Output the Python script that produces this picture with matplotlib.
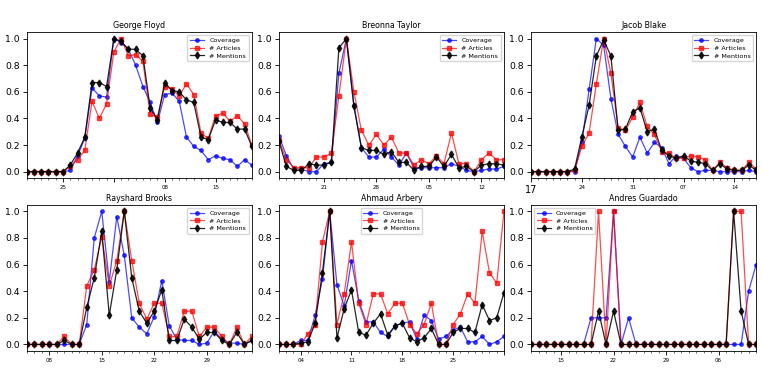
import numpy as np
import matplotlib
matplotlib.use("Agg")
import matplotlib.pyplot as plt
from matplotlib.ticker import MultipleLocator

titles = ["George Floyd", "Breonna Taylor", "Jacob Blake",
          "Rayshard Brooks", "Ahmaud Arbery", "Andres Guardado"]

floyd_cov = [0, 0, 0, 0, 0, 0, 0.01, 0.12, 0.25, 0.63, 0.57, 0.56, 1.0, 0.97, 0.92, 0.80,
             0.64, 0.52, 0.37, 0.58, 0.59, 0.53, 0.26, 0.19, 0.16, 0.09, 0.12, 0.10, 0.09, 0.04, 0.09, 0.05]
floyd_art = [0, 0, 0, 0, 0, 0, 0.04, 0.09, 0.16, 0.53, 0.40, 0.51, 0.90, 1.0, 0.87, 0.88,
             0.83, 0.43, 0.41, 0.64, 0.62, 0.57, 0.66, 0.58, 0.29, 0.25, 0.42, 0.44, 0.38, 0.42, 0.36, 0.20]
floyd_men = [0, 0, 0, 0, 0, 0, 0.05, 0.14, 0.26, 0.67, 0.67, 0.64, 1.0, 0.98, 0.92, 0.92,
             0.87, 0.48, 0.39, 0.67, 0.61, 0.60, 0.54, 0.52, 0.26, 0.24, 0.39, 0.37, 0.37, 0.32, 0.32, 0.19]

taylor_cov = [0.27, 0.12, 0.02, 0.02, 0.00, 0.00, 0.06, 0.07, 0.74, 1.0, 0.50, 0.18, 0.11, 0.11, 0.17, 0.11,
              0.05, 0.14, 0.03, 0.03, 0.03, 0.03, 0.03, 0.06, 0.04, 0.01, 0.00, 0.01, 0.02, 0.02, 0.04]
taylor_art = [0.24, 0.09, 0.03, 0.03, 0.03, 0.11, 0.11, 0.14, 0.57, 1.0, 0.60, 0.31, 0.20, 0.28, 0.20, 0.26,
              0.14, 0.14, 0.05, 0.09, 0.06, 0.12, 0.06, 0.29, 0.06, 0.06, 0.00, 0.09, 0.14, 0.09, 0.09]
taylor_men = [0.23, 0.04, 0.01, 0.01, 0.06, 0.05, 0.05, 0.07, 0.93, 1.0, 0.49, 0.18, 0.16, 0.16, 0.13, 0.15,
              0.07, 0.07, 0.01, 0.04, 0.04, 0.11, 0.04, 0.13, 0.03, 0.04, 0.00, 0.05, 0.06, 0.06, 0.05]

blake_cov = [0, 0, 0, 0, 0, 0, 0.0, 0.22, 0.62, 1.0, 0.95, 0.55, 0.28, 0.19, 0.11, 0.26,
             0.14, 0.22, 0.18, 0.06, 0.12, 0.10, 0.03, 0.00, 0.01, 0.01, 0.00, 0.00, 0.00, 0.00, 0.01, 0.00]
blake_art = [0, 0, 0, 0, 0, 0, 0.01, 0.19, 0.29, 0.66, 1.0, 0.74, 0.33, 0.31, 0.41, 0.52,
             0.34, 0.28, 0.15, 0.14, 0.10, 0.10, 0.12, 0.11, 0.09, 0.01, 0.07, 0.03, 0.01, 0.01, 0.07, 0.02]
blake_men = [0, 0, 0, 0, 0, 0, 0.02, 0.26, 0.50, 0.87, 0.99, 0.87, 0.31, 0.32, 0.45, 0.48,
             0.30, 0.32, 0.16, 0.12, 0.10, 0.12, 0.08, 0.07, 0.06, 0.01, 0.06, 0.02, 0.01, 0.01, 0.05, 0.01]

brooks_cov = [0, 0, 0, 0, 0, 0, 0, 0, 0.15, 0.80, 1.0, 0.47, 0.96, 0.67, 0.20, 0.13,
              0.08, 0.21, 0.48, 0.14, 0.04, 0.03, 0.03, 0.00, 0.01, 0.10, 0.04, 0.01, 0.01, 0.00, 0.03]
brooks_art = [0, 0, 0, 0, 0, 0.06, 0, 0, 0.44, 0.56, 0.81, 0.44, 0.63, 1.0, 0.63, 0.31,
              0.19, 0.31, 0.31, 0.06, 0.06, 0.25, 0.25, 0.06, 0.13, 0.13, 0.06, 0.0, 0.13, 0.0, 0.06]
brooks_men = [0, 0, 0, 0, 0, 0.03, 0, 0, 0.28, 0.50, 0.85, 0.22, 0.56, 1.0, 0.50, 0.25,
              0.16, 0.25, 0.41, 0.03, 0.03, 0.19, 0.13, 0.04, 0.09, 0.09, 0.03, 0.0, 0.09, 0.0, 0.03]

arbery_cov = [0, 0, 0, 0.03, 0.03, 0.22, 0.49, 1.0, 0.45, 0.29, 0.63, 0.33, 0.17, 0.17, 0.09, 0.06,
              0.14, 0.16, 0.17, 0.04, 0.22, 0.18, 0.04, 0.06, 0.11, 0.13, 0.02, 0.02, 0.06, 0.00, 0.02, 0.06]
arbery_art = [0, 0, 0, 0, 0.08, 0.15, 0.77, 1.0, 0.15, 0.38, 0.77, 0.31, 0.15, 0.38, 0.38, 0.23,
              0.31, 0.31, 0.15, 0.08, 0.15, 0.31, 0.0, 0.0, 0.15, 0.23, 0.38, 0.31, 0.85, 0.54, 0.46, 1.0]
arbery_men = [0, 0, 0, 0.01, 0.02, 0.16, 0.54, 1.0, 0.05, 0.27, 0.41, 0.09, 0.07, 0.16, 0.23, 0.07,
              0.14, 0.16, 0.05, 0.02, 0.05, 0.12, 0.0, 0.0, 0.09, 0.12, 0.12, 0.09, 0.30, 0.18, 0.20, 0.39]

guardado_cov = [0, 0, 0, 0, 0, 0, 0, 0, 0.2, 0.2, 0.2, 1.0, 0, 0.2, 0, 0,
                0, 0, 0, 0, 0, 0, 0, 0, 0, 0, 0, 0, 0, 0.4, 0.6]
guardado_art = [0, 0, 0, 0, 0, 0, 0, 0, 0, 1.0, 0, 1.0, 0, 0, 0, 0,
                0, 0, 0, 0, 0, 0, 0, 0, 0, 0, 0, 1.0, 1.0, 0, 0]
guardado_men = [0, 0, 0, 0, 0, 0, 0, 0, 0, 0.25, 0, 0.25, 0, 0, 0, 0,
                0, 0, 0, 0, 0, 0, 0, 0, 0, 0, 0, 1.0, 0.25, 0, 0]

# weekly tick positions (day index) and their day-of-month labels
tick_pos = [[5, 12, 19, 26], [6, 13, 20, 27], [0, 7, 14, 21, 28],
            [3, 10, 17, 24], [3, 10, 17, 24, 31], [4, 11, 18, 25]]
tick_lab = [["25", "", "08", "15"], ["21", "28", "05", "12"], ["17", "24", "31", "07", "14"],
            ["08", "15", "22", "29"], ["04", "11", "18", "25", ""], ["15", "22", "29", "06"]]
legend_loc = ["upper right", "upper right", "upper right",
              "upper right", "upper center", "upper left"]

series = [(floyd_cov, floyd_art, floyd_men), (taylor_cov, taylor_art, taylor_men),
          (blake_cov, blake_art, blake_men), (brooks_cov, brooks_art, brooks_men),
          (arbery_cov, arbery_art, arbery_men), (guardado_cov, guardado_art, guardado_men)]

fig, axes = plt.subplots(2, 3, figsize=(7.63, 3.85), dpi=100)
fig.subplots_adjust(left=0.035, right=0.991, top=0.917, bottom=0.088, wspace=0.12, hspace=0.18)

for k, ax in enumerate(axes.flat):
    cov, art, men = series[k]
    x = np.arange(len(cov))
    ax.plot(x, cov, "o-", color="blue", alpha=0.7, lw=0.9, ms=2.5, label="Coverage")
    ax.plot(x, art, "s-", color="red", alpha=0.7, lw=0.9, ms=3.5, label="# Articles")
    ax.plot(x, men, "d-", color="black", alpha=0.85, lw=0.9, ms=3.5, label="# Mentions")
    ax.set_xlim(0, len(cov) - 1)
    ax.set_ylim(-0.05, 1.05)
    ax.set_title(titles[k], fontsize=5.7, pad=3)
    ax.set_xticks(tick_pos[k])
    ax.set_xticklabels(tick_lab[k])
    ax.xaxis.set_minor_locator(MultipleLocator(1))
    ax.tick_params(axis="x", which="major", labelsize=4, length=3, width=0.6, pad=2)
    ax.tick_params(axis="x", which="minor", length=1.5, width=0.4)
    ax.tick_params(axis="y", labelsize=6.7, length=3, width=0.6, pad=2)
    ax.set_yticks(np.arange(0, 1.01, 0.2))
    for s in ax.spines.values():
        s.set_linewidth(0.6)
    ax.legend(loc=legend_loc[k], fontsize=4.6, handlelength=2.2, borderpad=0.4,
              labelspacing=0.35, handletextpad=0.8, framealpha=0.8)

# first tick label of the Jacob Blake panel is drawn larger in the original
axes[0, 2].get_xticklabels()[0].set_fontsize(7)

fig.savefig("out.png", dpi=100)
